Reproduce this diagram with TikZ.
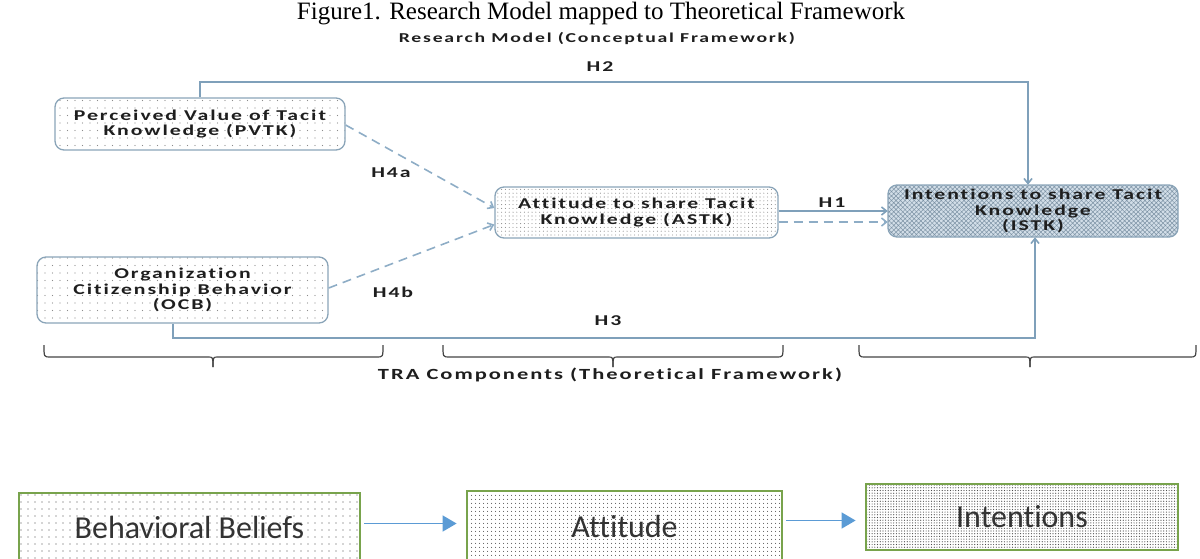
\documentclass[tikz,border=0pt]{standalone}
\usepackage{fontspec}
\setmainfont{Liberation Serif}
\newfontfamily\labfont[FakeStretch=1.45,LetterSpace=13,Ligatures=NoCommon]{Carlito}
\newfontfamily\calfont[Ligatures=NoCommon]{Carlito}
\usetikzlibrary{patterns.meta,arrows.meta}
\definecolor{boxline}{HTML}{8AA4B8}
\definecolor{connc}{HTML}{7FA0BA}
\definecolor{dashc}{HTML}{8EADC6}
\definecolor{txt}{HTML}{1E1E1E}
\definecolor{istkbg}{HTML}{D2DEE8}
\definecolor{istkhatch}{HTML}{7C92A4}
\definecolor{gborder}{HTML}{78A34C}
\definecolor{barrowc}{HTML}{5B9BD5}
\definecolor{bracec}{HTML}{444444}
\definecolor{dotc}{HTML}{8C8C8C}
\definecolor{gdotc}{HTML}{4A4A4A}
\tikzset{
  rbox/.style={draw=boxline, line width=1.3pt, rounded corners=9pt, align=center,
    inner sep=0pt, font=\labfont\bfseries\fontsize{15}{15.5}\selectfont, text=txt},
  sparse/.style={pattern={Dots[distance=7.5pt,radius=0.6pt]}, pattern color=dotc},
  dense/.style={pattern={Dots[distance=3.8pt,radius=0.55pt]}, pattern color=dotc},
  hatched/.style={preaction={fill=istkbg}, pattern={Hatch[distance=3.2pt,angle=45,line width=0.5pt]}, pattern color=istkhatch},
  hlab/.style={font=\labfont\bfseries\fontsize{15}{16}\selectfont, text=txt, inner sep=0pt},
  conn/.style={draw=connc, line width=1.6pt, -{Straight Barb[length=5pt,width=8pt]}},
  dconn/.style={draw=dashc, line width=1.6pt, dash pattern=on 9pt off 6pt, -{Straight Barb[length=5pt,width=8pt]}},
  gbox/.style={draw=gborder, line width=2.8pt, inner sep=0pt, text=black!80,
    font=\calfont\fontsize{32}{36}\selectfont},
  barrow/.style={draw=barrowc, line width=1.5pt, -{Triangle[length=14pt,width=16pt]}},
  bracel/.style={draw=bracec, line width=1.2pt}
}
\begin{document}
\begin{tikzpicture}[x=1pt,y=-1pt]
\useasboundingbox (0,0) rectangle (1200,558);
\clip (0,0) rectangle (1200,558);

% titles
\node[font=\fontsize{25}{28}\selectfont] (title) at (601,14) {Figure1. Research Model mapped to Theoretical Framework};
\node[hlab, font=\labfont\bfseries\fontsize{13.6}{16}\selectfont] (rm) at (597,39) {Research Model (Conceptual Framework)};

% boxes
\node[rbox, sparse, minimum width=290pt, minimum height=52pt] (pvtk) at (200,124)
  {Perceived Value of Tacit\\Knowledge (PVTK)};
\node[rbox, sparse, minimum width=291pt, minimum height=66pt] (ocb) at (182.5,290)
  {Organization\\Citizenship Behavior\\(OCB)};
\node[rbox, dense, minimum width=283pt, minimum height=51pt] (astk) at (636.5,212.5)
  {Attitude to share Tacit\\Knowledge (ASTK)};
\node[rbox, hatched, minimum width=290pt, minimum height=52pt] (istk) at (1033,211)
  {Intentions to share Tacit\\Knowledge\\(ISTK)};

% H2
\coordinate (h2c) at (1028,82);
\draw[conn] (pvtk.north) |- (h2c) -- (h2c |- istk.north);
\node[hlab] (h2) at (600,67) {H2};

% H3
\coordinate (h3a) at (173,338);
\coordinate (h3c) at (1035,338);
\draw[conn] (h3a |- ocb.south) -- (h3a) -- (h3c) -- (h3c |- istk.south);
\node[hlab] (h3) at (608,321) {H3};

% H4a / H4b
\draw[dconn] ([yshift=-1pt]pvtk.east) -- ([yshift=4.5pt]astk.west);
\node[hlab] (h4a) at (391,173) {H4a};
\draw[dconn] ([yshift=2pt]ocb.east) -- ([yshift=-12pt]astk.west);
\node[hlab] (h4b) at (393,292) {H4b};

% H1
\coordinate (h1s) at ([yshift=1.5pt]astk.east);
\coordinate (h1d) at ([yshift=-9.5pt]astk.east);
\draw[conn] (h1s) -- (h1s -| istk.west);
\draw[dconn] (h1d) -- (h1d -| istk.west);
\node[hlab] (h1) at (832,203) {H1};

% braces
\foreach \a/\m/\b in {44/213/383, 443/613/783, 859/1030/1196}{
  \draw[bracel] (\a,345) .. controls (\a,357) .. (\a+6,357) -- (\m-5,357)
     .. controls (\m,357) .. (\m,367);
  \draw[bracel] (\m,367) .. controls (\m,357) .. (\m+5,357) -- (\b-6,357)
     .. controls (\b,357) .. (\b,345);
}
\node[hlab, font=\labfont\bfseries\fontsize{15.5}{18}\selectfont] (tra) at (610,375) {TRA Components (Theoretical Framework)};

% bottom TRA chain
\node[gbox, pattern={Dots[distance=7pt,radius=0.65pt]}, pattern color=gdotc,
  minimum width=341pt, minimum height=69pt] (bb) at (189.5,527.5) {Behavioral Beliefs};
\node[gbox, pattern={Dots[distance=4pt,radius=0.6pt]}, pattern color=gdotc,
  minimum width=315pt, minimum height=71pt] (att) at (624.5,526.5) {Attitude};
\node[gbox, pattern={Dots[distance=2.7pt,radius=0.6pt]}, pattern color=gdotc,
  minimum width=312pt, minimum height=66pt] (int) at (1022,517) {Intentions};
\coordinate (b1) at ([yshift=4pt]bb.east);
\draw[barrow, shorten <=3pt, shorten >=9pt] (b1) -- (b1 -| att.west);
\coordinate (b2) at ([yshift=6pt]att.east);
\draw[barrow, shorten <=3pt, shorten >=9pt] (b2) -- (b2 -| int.west);
\end{tikzpicture}
\end{document}
